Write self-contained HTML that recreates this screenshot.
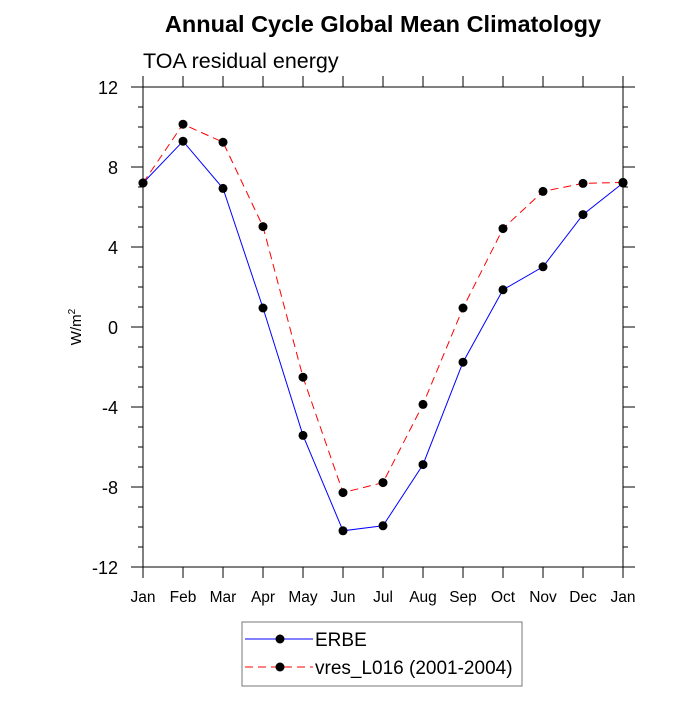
<!DOCTYPE html>
<html><head><meta charset="utf-8"><style>
body{margin:0;background:#fff}
svg text{font-family:"Liberation Sans",sans-serif}
</style></head><body>
<svg id="chart" width="700" height="700" xmlns="http://www.w3.org/2000/svg">
<text x="383" y="32" text-anchor="middle" font-size="23.5" font-weight="bold">Annual Cycle Global Mean Climatology</text>
<text x="143" y="68" font-size="21.5">TOA residual energy</text>
<text transform="translate(81,327) rotate(-90)" text-anchor="middle" font-size="15">W/m<tspan dy="-6" font-size="10">2</tspan></text>
<g id="axes"></g><g id="series"></g>
<g>
<rect x="242" y="622" width="280" height="64" fill="#fff" stroke="#777" stroke-width="1"/>
<line x1="245" y1="639" x2="313" y2="639" stroke="#00f" stroke-width="1"/>
<circle cx="280" cy="639" r="4.5" fill="#000"/>
<text x="315" y="646" font-size="19">ERBE</text>
<line x1="245" y1="667" x2="313" y2="667" stroke="#f00" stroke-width="1" stroke-dasharray="8,5"/>
<circle cx="280" cy="667" r="4.5" fill="#000"/>
<text x="315" y="674" font-size="19">vres_L016 (2001-2004)</text>
</g>
</svg>
<script>
const months=["Jan","Feb","Mar","Apr","May","Jun","Jul","Aug","Sep","Oct","Nov","Dec","Jan"];
const erbe=[7.2,9.29,6.93,0.95,-5.42,-10.19,-9.94,-6.88,-1.76,1.86,3.01,5.62,7.2];
const vres=[7.2,10.14,9.24,5.02,-2.51,-8.28,-7.78,-3.87,0.95,4.92,6.78,7.18,7.23];
const yTicks=[-12,-8,-4,0,4,8,12];
const L=143,R=623,T=87,B=567,yMin=-12,yMax=12;
const xs=i=>L+(R-L)*i/(months.length-1);
const ys=v=>B-(v-yMin)/(yMax-yMin)*(B-T);
const NS="http://www.w3.org/2000/svg";
const ax=document.getElementById('axes'),se=document.getElementById('series');
function mk(tag,attrs,parent){const e=document.createElementNS(NS,tag);for(const k in attrs)e.setAttribute(k,attrs[k]);parent.appendChild(e);return e;}
const frame=mk('rect',{x:L,y:T,width:R-L,height:B-T,fill:'none',stroke:'#000','stroke-width':1},ax);


months.forEach((m,i)=>{const x=xs(i);
 mk('line',{x1:x,y1:B,x2:x,y2:B+11,stroke:'#000'},ax);
 mk('line',{x1:x,y1:T,x2:x,y2:T-11,stroke:'#000'},ax);
 const t=mk('text',{x:x,y:B+35,'text-anchor':'middle','font-size':15.5},ax);t.textContent=m;
 
 
});
for(let v=yMin;v<=yMax;v++){const y=ys(v);const maj=yTicks.includes(v);const len=maj?12:5;
 mk('line',{x1:L-len,y1:y,x2:L,y2:y,stroke:'#000'},ax);
 mk('line',{x1:R,y1:y,x2:R+len,y2:y,stroke:'#000'},ax);}
yTicks.forEach(v=>{const t=mk('text',{x:L-25,y:ys(v)+7,'text-anchor':'end','font-size':18},ax);t.textContent=v;
 
 });
function series(d,col,dash,name){
 const p=mk('polyline',{points:d.map((v,i)=>xs(i)+','+ys(v)).join(' '),fill:'none',stroke:col,'stroke-width':1,'stroke-dasharray':dash},se);
 
 
 d.forEach((v,i)=>{const c=mk('circle',{cx:xs(i),cy:ys(v),r:4.5,fill:'#000'},se);
  
  });
}
series(erbe,'#00f','none','erbe');
series(vres,'#f00','8,5','vres');
</script>
</body></html>
